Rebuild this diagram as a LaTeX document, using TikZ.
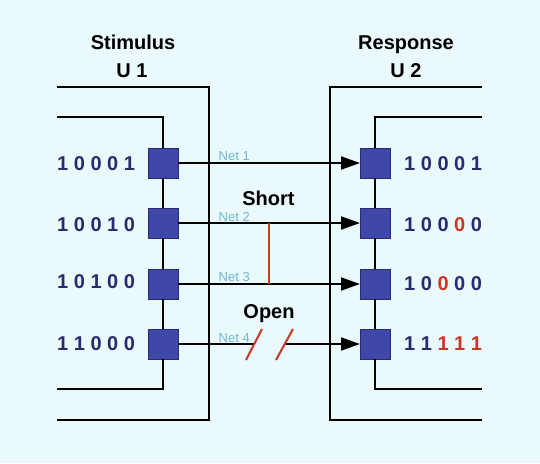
\documentclass[tikz,border=0pt]{standalone}
\usepackage{fontspec}
\setmainfont{Liberation Sans}
\usepackage{xcolor}
\definecolor{bsbg}{RGB}{234,249,251}
\definecolor{bsblue}{RGB}{63,72,168}
\definecolor{bsnavy}{RGB}{43,42,110}
\definecolor{bsred}{RGB}{200,56,40}
\definecolor{bsnet}{RGB}{112,184,207}
\usetikzlibrary{arrows.meta,positioning}
\tikzset{
  cell/.style={draw=bsnavy, fill=bsblue, line width=1pt, minimum size=30pt, inner sep=0pt, outer sep=0pt},
  chipline/.style={black, line width=2.3pt, line join=miter},
  pinline/.style={black, line width=2pt},
  netline/.style={black, line width=2pt},
  netarrow/.style={netline, -{Triangle[length=19pt,width=13pt]}},
  fault/.style={bsred, line width=2pt},
  heading/.style={font=\fontsize{20}{24}\selectfont\bfseries, anchor=base, inner sep=0pt},
  netlabel/.style={font=\fontsize{13}{15}\selectfont, text=bsnet, anchor=base west, inner sep=0pt},
  bits/.style={font=\fontsize{20}{24}\selectfont\bfseries, text=bsnavy, anchor=base west, inner sep=0pt}
}
\newcommand{\flip}[1]{\textcolor{bsred}{#1}}
\begin{document}
\begin{tikzpicture}[x=1pt, y=-1pt]
    \fill[bsbg] (0,0) rectangle (540,463);
    \useasboundingbox (0,0) rectangle (540,463);

    % Chip outlines
    \draw[chipline] (57,87) -- (209,87) -- (209,420) -- (57,420);
    \draw[chipline] (482,87) -- (330,87) -- (330,420) -- (482,420);

    % Left cells
    \node[cell] (a1) at (163,163) {};
    \node[cell] (a2) at (163,223) {};
    \node[cell] (a3) at (163,284) {};
    \node[cell] (a4) at (163,344) {};

    % Right cells
    \node[cell] (b1) at (375,163) {};
    \node[cell] (b2) at (375,223) {};
    \node[cell] (b3) at (375,284) {};
    \node[cell] (b4) at (375,344) {};

    % Scan chains
    \coordinate (a0) at (57,117);
    \coordinate (a5) at (57,389);
    \coordinate (b0) at (482,117);
    \coordinate (b5) at (482,389);
    \draw[pinline] (a0) -| (a1);
    \draw[pinline] (a1) -- (a2);
    \draw[pinline] (a2) -- (a3);
    \draw[pinline] (a3) -- (a4);
    \draw[pinline] (a4) |- (a5);
    \draw[pinline] (b0) -| (b1);
    \draw[pinline] (b1) -- (b2);
    \draw[pinline] (b2) -- (b3);
    \draw[pinline] (b3) -- (b4);
    \draw[pinline] (b4) |- (b5);

    % Nets
    \draw[netarrow] (a1) -- (b1);
    \draw[netarrow] (a2) -- (b2);
    \draw[netarrow] (a3) -- (b3);
    \coordinate (cutl) at (254,344);
    \coordinate (cutr) at (285,344);
    \draw[netline] (a4) -- (cutl);
    \draw[netarrow] (cutr) -- (b4);

    % Short between net 2 and net 3
    \coordinate (shorta) at (268.5,223);
    \coordinate (shortb) at (268.5,284);
    \draw[fault] (shorta) -- (shortb);

    % Open on net 4
    \coordinate (opena) at (246,360);
    \coordinate (openb) at (262,329);
    \coordinate (openc) at (276,360);
    \coordinate (opend) at (293,329);
    \draw[fault] (opena) -- (openb);
    \draw[fault] (openc) -- (opend);

    % Headings
    \node[heading] (stim) at (133,49) {Stimulus};
    \node[heading] (uone) at (132,77) {U 1};
    \node[heading] (resp) at (406,49) {Response};
    \node[heading] (utwo) at (406,77) {U 2};
    \node[heading] (short) at (268.5,205) {Short};
    \node[heading] (open) at (269,318) {Open};

    % Net labels
    \node[netlabel] (net1) at (218.5,160) {Net 1};
    \node[netlabel] (net2) at (218.5,221) {Net 2};
    \node[netlabel] (net3) at (218.5,281) {Net 3};
    \node[netlabel] (net4) at (218.5,342) {Net 4};

    % Patterns
    \node[bits] (sa) at (57,170.5) {1 0 0 0 1};
    \node[bits] (sb) at (57,231) {1 0 0 1 0};
    \node[bits] (sc) at (57,288.7) {1 0 1 0 0};
    \node[bits] (sd) at (57,350.3) {1 1 0 0 0};
    \node[bits] (ra) at (404,170.5) {1 0 0 0 1};
    \node[bits] (rb) at (404,231) {1 0 0 \flip{0} 0};
    \node[bits] (rc) at (404,290.3) {1 0 \flip{0} 0 0};
    \node[bits] (rd) at (404,350.3) {1 1 \flip{1 1 1}};
  \end{tikzpicture}
\end{document}
